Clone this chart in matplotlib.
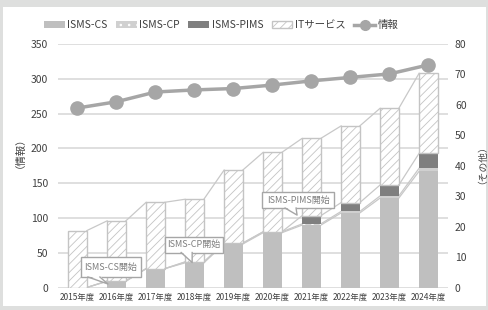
from matplotlib import pyplot as plt
from matplotlib import transforms as mtransforms
from matplotlib.patches import Patch, Rectangle, Polygon
from matplotlib.lines import Line2D
import numpy as np

plt.rcParams['font.family'] = ['Noto Sans CJK JP', 'DejaVu Sans']
plt.rcParams['hatch.linewidth'] = 0.6

# Data.
years  = ['2015年度', '2016年度', '2017年度', '2018年度', '2019年度',
          '2020年度', '2021年度', '2022年度', '2023年度', '2024年度']
joho   = [258, 267, 281, 284, 286, 291, 297, 302, 307, 320]      # left axis
cs     = [0, 2.1, 6.2, 8.1, 14.3, 18.0, 20.5, 24.5, 29.4, 38.2]  # right axis
cp     = [0, 0, 0, 0.3, 0.3, 0.3, 0.4, 0.5, 0.7, 1.0]
pims   = [0, 0, 0, 0, 0, 0, 2.7, 2.9, 3.6, 4.9]
it     = [18.7, 19.8, 21.8, 20.6, 24.0, 26.1, 25.4, 25.2, 25.2, 26.3]

x = np.arange(len(years))
w = 0.48

fig = plt.figure(figsize=(4.89, 3.10), dpi=100, facecolor='#dedfde')
fig.patches.append(Rectangle((3/489, 4/310), 483/489, 299/310,
                             transform=fig.transFigure, fc='white', ec='none', zorder=-5))
ax = fig.add_axes([58/489, 1 - 287.5/310, 390/489, 243.5/310])
ax.patch.set_visible(False)
axb = ax.twinx()

# Line (情報) on left axis.
ax.plot(x, joho, color='#a6a6a6', lw=2.5, marker='o', ms=9.5, zorder=3)
ax.set_ylim(0, 350)
ax.set_yticks(np.arange(0, 351, 50))
ax.grid(True, axis='y', color='#d9d9d9', lw=1.2)
ax.set_axisbelow(True)
ax.set_xlim(-0.5, len(years) - 0.5)
ax.set_xticks(x)
ax.set_xticklabels(years, fontsize=6, color='#404040')
ax.tick_params(axis='x', length=0, pad=4)
ax.tick_params(axis='y', length=0, pad=7, labelsize=7.5, labelcolor='#404040')
for s in ax.spines.values():
  s.set_visible(False)

# Stacked bars (その他) on right axis.
cs, cp, pims, it = map(np.array, (cs, cp, pims, it))
b1 = cs
b2 = b1 + cp
b3 = b2 + pims
b4 = b3 + it
axb.bar(x, cs, w, color='#bfbfbf', zorder=2)
axb.bar(x, cp, w, bottom=b1, color='#d0d0d0', hatch='..', edgecolor='white', lw=0, zorder=2)
axb.bar(x, pims, w, bottom=b2, color='#7f7f7f', zorder=2)
axb.bar(x, it, w, bottom=b3, color='white', hatch='////', edgecolor='#c4c4c4', lw=1, zorder=2)
# series lines
for tops in (b1, b2, b3, b4):
  for i in range(len(x) - 1):
    axb.plot([x[i] + w/2, x[i+1] - w/2], [tops[i], tops[i+1]],
             color='#c8c8c8', lw=0.9, zorder=1)
axb.set_xlim(-0.5, len(years) - 0.5)
axb.set_ylim(0, 80)
axb.set_yticks(np.arange(0, 81, 10))
axb.tick_params(axis='y', length=0, pad=5, labelsize=7.5, labelcolor='#404040')
for s in axb.spines.values():
  s.set_visible(False)

# Callouts: box and tail given in pixels relative to the tip point.
def callout(txt, tip, box, base):
  # box = (left, right, bottom, top), base = (x0, x1); pixels, y up
  tr = mtransforms.Affine2D() + mtransforms.ScaledTranslation(tip[0], tip[1], axb.transData)
  l, r, b, t = box
  axb.add_artist(Rectangle((l, b), r - l, t - b, transform=tr, fc='white',
                           ec='#a6a6a6', lw=1, zorder=5))
  axb.add_artist(Polygon([(base[0], b + 1.5), (0, 0), (base[1], b + 1.5)],
                         closed=True, transform=tr, fc='white', ec='none', zorder=6))
  axb.add_artist(Line2D([base[0], 0, base[1]], [b, 0, b], transform=tr,
                        color='#a6a6a6', lw=1, zorder=7))
  axb.text((l + r) / 2, (b + t) / 2, txt, transform=tr, ha='center', va='center',
           fontsize=6.5, color='#7f7f7f', zorder=8)

callout('ISMS-CS開始', (x[1] - 0.22, 1.15), (-27, 33, 7, 27), (-20, -8))
callout('ISMS-CP開始', (x[3] - 0.06, b2[3] - 0.2), (-27, 31, 10, 26), (-11, 0))
callout('ISMS-PIMS開始', (x[6] - 0.37, b3[6] + 0.2), (-35, 37, 7, 23), (-12, -1))

# Axis titles.
fig.text(15/489, 1 - 147/310, '（情報）', rotation=90, ha='center', va='center',
         fontsize=7.5, color='#404040')
fig.text(477/489, 1 - 160/310, '（その他）', rotation=90, ha='center', va='center',
         fontsize=7, color='#404040')

# Legend.
handles = [Patch(fc='#bfbfbf'),
           Patch(fc='#d0d0d0', hatch='..', ec='white', lw=0),
           Patch(fc='#7f7f7f'),
           Patch(fc='white', hatch='////', ec='#c4c4c4', lw=1),
           Line2D([], [], color='#a6a6a6', lw=2.5, marker='o', ms=7)]
labels = ['ISMS-CS', 'ISMS-CP', 'ISMS-PIMS', 'ITサービス', '情報']
fig.legend(handles, labels, loc='center', bbox_to_anchor=(221/489, 1 - 25/310),
           ncol=5, frameon=False, fontsize=7.5, handlelength=2.0, handleheight=0.6,
           handletextpad=0.25, columnspacing=0.8, labelcolor='#404040')

fig.savefig('out.png', dpi=100, facecolor=fig.get_facecolor())
